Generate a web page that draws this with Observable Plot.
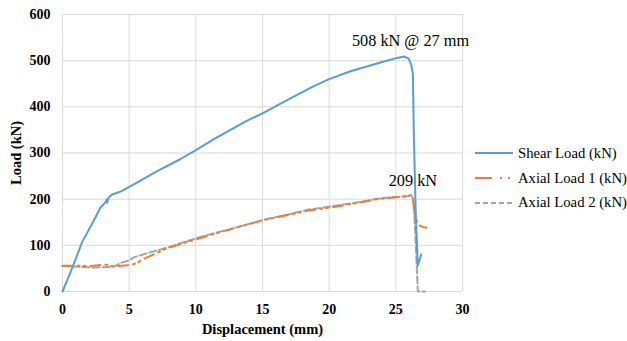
<!DOCTYPE html>
<html>
<head>
<meta charset="utf-8">
<script src="https://cdn.jsdelivr.net/npm/d3@7"></script>
<script src="https://cdn.jsdelivr.net/npm/@observablehq/plot@0.6"></script>
<style>
  html, body { margin: 0; padding: 0; background: #fff; }
  #wrap { position: relative; width: 627px; height: 341px; font-family: "Liberation Serif", "Times New Roman", serif; }
  #legend { position: absolute; left: 475px; top: 141px; font-size: 14.7px; color: #000; }
  .row { display: flex; align-items: center; height: 24.8px; }
  .row svg { margin-right: 5px; }
</style>
</head>
<body>
<div id="wrap"></div>
<script>
// Shear Load (kN)
const shearX = [0, 0.35, 0.85, 1.47, 2.35, 2.85, 3.22, 3.3, 3.35, 3.45, 3.72, 4.4, 4.97, 5.85, 7.0, 8.85, 10.1, 11.35, 13.85, 15.0, 16.35, 18.85, 20.0, 21.6, 23.85, 25.1, 25.6, 25.95, 26.15, 26.28, 26.35, 26.5, 26.65, 26.9];
const shearY = [0, 24, 60, 107, 154, 182, 193, 199, 192, 203, 210, 217, 226, 240, 259, 287, 308, 330, 370, 386, 407, 445, 460, 477, 496, 506, 509, 505, 492, 472, 340, 160, 56, 80];
// Axial Load 1 (kN)
const axial1X = [0, 1.0, 2.0, 3.1, 3.35, 3.6, 4.2, 4.85, 5.3, 5.72, 5.85, 6.35, 7.7, 9.1, 10.35, 12.85, 15.0, 17.1, 18.35, 20.35, 22.1, 23.85, 25.6, 26.2, 26.3, 26.4, 26.65, 27.0, 27.3];
const axial1Y = [56, 56, 55, 58, 58, 55, 55, 57, 59, 64, 67, 74, 92, 105, 116, 137, 154, 167, 175, 183, 192, 201, 206, 209, 200, 170, 145, 140, 138];
// Axial Load 2 (kN)
const axial2X = [0, 1.0, 2.35, 3.6, 3.9, 4.35, 4.97, 5.35, 6.6, 7.85, 9.1, 10.35, 11.6, 12.85, 15.0, 17.1, 18.35, 20.1, 22.1, 23.85, 25.6, 26.2, 26.3, 26.4, 26.5, 26.65, 27.2];
const axial2Y = [55, 54, 52, 53, 54, 62, 67, 74, 85, 95, 107, 118, 128, 137, 155, 168, 177, 184, 193, 202, 206, 207, 200, 160, 100, 0, 0];
// Annotations
const labelX = [26.1, 26.28];
const labelY = [542, 239];
const labelText = ["508 kN @ 27 mm", "209 kN"];
// Axis ticks
const xTicks = [0, 5, 10, 15, 20, 25, 30];
const yTicks = [0, 100, 200, 300, 400, 500, 600];

const seriesNames = ["Shear Load (kN)", "Axial Load 1 (kN)", "Axial Load 2 (kN)"];
const colors = ["#5B9BD5", "#ED7D31", "#A5A5A5"];
const dashes = [null, "10,5,2,4,2,5", "7,3"];

const toRows = (xs, ys) => xs.map((x, i) => ({x, y: ys[i]}));
const shear = toRows(shearX, shearY);
const axial1 = toRows(axial1X, axial1Y);
const axial2 = toRows(axial2X, axial2Y);
const labels = labelText.map((t, i) => ({x: labelX[i], y: labelY[i], t}));

const chart = Plot.plot({
  width: 627,
  height: 341,
  marginLeft: 62,
  marginRight: 165,
  marginTop: 14,
  marginBottom: 50,
  style: {fontFamily: "Liberation Serif, Times New Roman, serif", background: "#fff", color: "#000"},
  x: {domain: [0, 30]},
  y: {domain: [0, 600]},
  marks: [
    Plot.gridX(xTicks, {stroke: "#D9D9D9", strokeOpacity: 1, strokeWidth: 1}),
    Plot.gridY(yTicks, {stroke: "#D9D9D9", strokeOpacity: 1, strokeWidth: 1}),
    Plot.axisX(xTicks, {tickSize: 0, tickPadding: 13, fontSize: 14, fontWeight: "bold", label: "Displacement (mm)", labelAnchor: "center", labelArrow: "none", labelOffset: 42}),
    Plot.axisY(yTicks, {tickSize: 0, tickPadding: 12, fontSize: 14, fontWeight: "bold", label: "Load (kN)", labelAnchor: "center", labelArrow: "none", labelOffset: 52}),
    Plot.line(axial2, {x: "x", y: "y", stroke: colors[2], strokeWidth: 2, strokeDasharray: dashes[2], curve: "linear"}),
    Plot.line(axial1, {x: "x", y: "y", stroke: colors[1], strokeWidth: 2, strokeDasharray: dashes[1], curve: "linear"}),
    Plot.line(shear, {x: "x", y: "y", stroke: colors[0], strokeWidth: 2, curve: "linear"}),
    Plot.text(labels, {x: "x", y: "y", text: "t", fontSize: 16.3, fill: "#000"})
  ]
});
d3.select(chart).selectAll("[aria-label='x-axis label'] text, [aria-label='y-axis label'] text")
  .style("font-size", "14.5px").style("font-weight", "bold");

const wrap = document.getElementById("wrap");
wrap.appendChild(chart);

const legend = document.createElement("div");
legend.id = "legend";
const legendDashes = [null, "17,8,2,6,2,8", "5,3"];
seriesNames.forEach((name, i) => {
  const row = document.createElement("div");
  row.className = "row";
  const dash = legendDashes[i] ? ` stroke-dasharray="${legendDashes[i]}"` : "";
  row.innerHTML = `<svg width="38" height="6"><line x1="0" y1="3" x2="38" y2="3" stroke="${colors[i]}" stroke-width="2"${dash}/></svg><span>${name}</span>`;
  legend.appendChild(row);
});
wrap.appendChild(legend);
</script>
</body>
</html>
